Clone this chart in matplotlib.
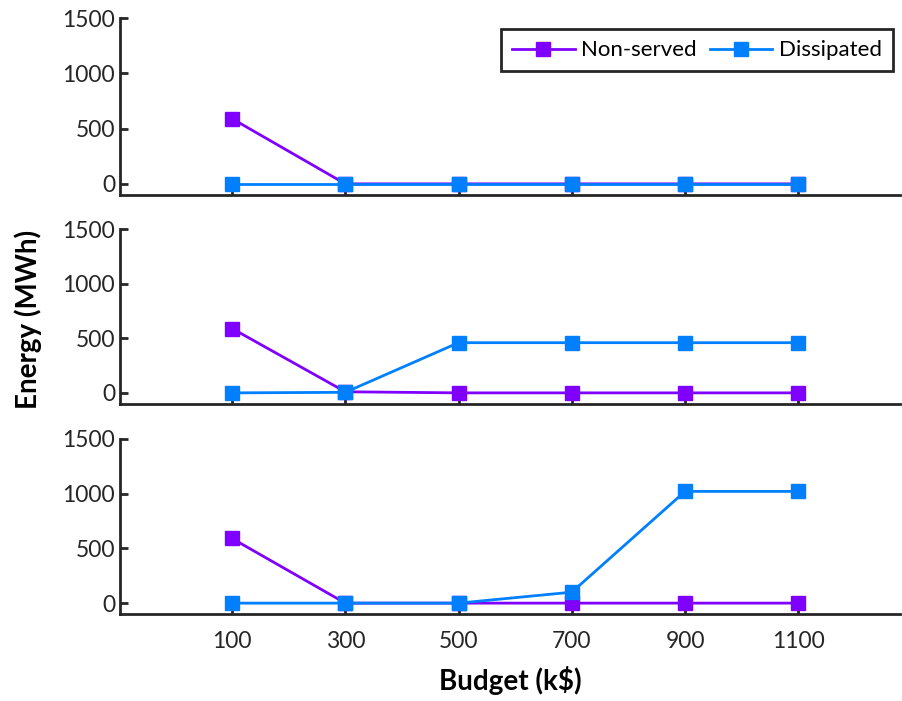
import numpy as np
import matplotlib.pyplot as plt

plt.rcParams['font.family'] = ['Lato', 'DejaVu Sans']

budget = [100, 300, 500, 700, 900, 1100]
nonserved = [
  [590, 0, 0, 0, 0, 0],
  [590, 10, 0, 0, 0, 0],
  [590, 0, 0, 0, 0, 0],
]
dissipated = [
  [0, 0, 0, 0, 0, 0],
  [0, 5, 460, 460, 460, 460],
  [0, 0, 0, 100, 1020, 1020],
]

purple = '#7f00ff'
blue = '#0080ff'
spine_c = '#262626'

fig = plt.figure(figsize=(9.02, 7.01), dpi=100)
boxes = [(0.133, 0.722, 0.865, 0.252),
         (0.133, 0.424, 0.865, 0.249),
         (0.133, 0.124, 0.865, 0.250)]

for i, b in enumerate(boxes):
  ax = fig.add_axes(b)
  ax.plot(budget, nonserved[i], color=purple, lw=2, marker='s', ms=10,
          label='Non-served')
  ax.plot(budget, dissipated[i], color=blue, lw=2, marker='s', ms=10,
          label='Dissipated')
  ax.set_xlim(-98, 1280)
  ax.set_ylim(-100, 1500)
  ax.set_yticks([0, 500, 1000, 1500])
  ax.set_xticks(budget)
  for s in ['top', 'right']:
    ax.spines[s].set_visible(False)
  for s in ['left', 'bottom']:
    ax.spines[s].set_linewidth(2)
    ax.spines[s].set_color(spine_c)
  ax.tick_params(direction='in', length=6, width=2, color=spine_c,
                 labelsize=16.5, labelcolor='#262626')
  if i < 2:
    ax.tick_params(axis='x', labelbottom=False)
  else:
    ax.tick_params(axis='x', pad=12)
    ax.set_xlabel('Budget (k$)', fontsize=20, fontweight='bold', labelpad=10)
  if i == 0:
    leg = ax.legend(loc='upper right', ncol=2, fontsize=16, fancybox=False,
                    edgecolor='#262626', framealpha=1, handlelength=2.8,
                    columnspacing=0.6, handletextpad=0.3, borderpad=0.5,
                    borderaxespad=0, bbox_to_anchor=(0.991, 0.938))
    leg.get_frame().set_linewidth(2)

fig.text(0.031, 0.545, 'Energy (MWh)', rotation=90, fontsize=20,
         fontweight='bold', ha='center', va='center')

plt.savefig('out.png', dpi=100)
